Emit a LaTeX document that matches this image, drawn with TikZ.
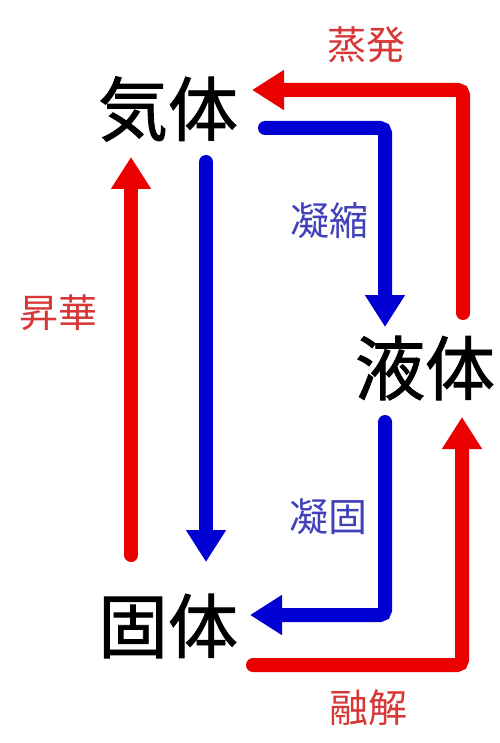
\documentclass[tikz,border=0pt]{standalone}
\usepackage{fontspec}
\newfontfamily\jp{Noto Sans CJK JP}
\newfontfamily\jpheavy[FakeBold=1.2]{Noto Sans CJK JP}
\usetikzlibrary{arrows.meta}
\definecolor{arrred}{RGB}{235,0,0}
\definecolor{arrblue}{RGB}{0,0,210}
\definecolor{labred}{RGB}{215,55,55}
\definecolor{labblue}{RGB}{65,65,185}
\tikzset{
  state/.style={inner sep=0pt, font=\jpheavy\fontsize{70}{70}\selectfont, text=black},
  proc/.style={inner sep=0pt, font=\jp\fontsize{39}{39}\selectfont},
  conn/.style={line width=14pt, line cap=round, rounded corners=5pt,
    -{Triangle[width=38pt,length=32pt]}},
  redconn/.style={conn, draw=arrred},
  blueconn/.style={conn, draw=arrblue}
}
\begin{document}
\begin{tikzpicture}[x=1pt,y=-1pt]
\useasboundingbox[fill=white] (0,0) rectangle (499,743);
\node[state] (gas) at (168,109) {気体};
\node[state] (liq) at (425,368) {液体};
\node[state] (sol) at (168,626) {固体};
\node[proc, text=labred] (evap) at (366,45) {蒸発};
\node[proc, text=labblue] (cond) at (329,221) {凝縮};
\node[proc, text=labred] (subl) at (58,313) {昇華};
\node[proc, text=labblue] (frz) at (328,517) {凝固};
\node[proc, text=labred] (melt) at (368,708) {融解};
% evaporation
\draw[redconn] ([shift={(38,-55)}]liq.center) |- ([shift={(84,-19)}]gas.center);
% condensation
\draw[blueconn] ([shift={(97,19)}]gas.center) -| ([shift={(-40,-41)}]liq.center);
% freezing
\draw[blueconn] ([shift={(-40,54)}]liq.center) |- ([shift={(82,-11)}]sol.center);
% melting
\draw[redconn] ([shift={(85,39)}]sol.center) -| ([shift={(37,49)}]liq.center);
% sublimation
\draw[redconn] ([shift={(-37,-71)}]sol.center) -- ([shift={(-37,48)}]gas.center);
% deposition
\draw[blueconn] ([shift={(38,53)}]gas.center) -- ([shift={(38,-64)}]sol.center);
\end{tikzpicture}
\end{document}
